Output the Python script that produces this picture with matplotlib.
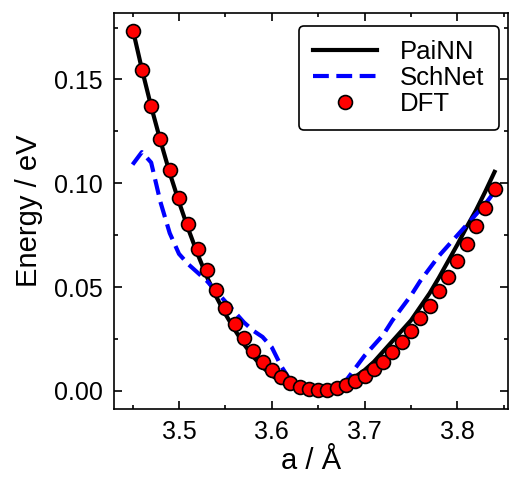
import matplotlib
matplotlib.use('Agg')
import matplotlib.pyplot as plt
import numpy as np
from matplotlib.ticker import MultipleLocator

plt.rcParams['font.family'] = ['Liberation Sans', 'DejaVu Sans']

a = np.round(np.arange(3.45, 3.845, 0.01), 2)

dft = [0.1732, 0.1546, 0.1372, 0.1213, 0.1064, 0.0927, 0.0802, 0.0684, 0.0580, 0.0485,
       0.0398, 0.0321, 0.0255, 0.0191, 0.0141, 0.0100, 0.0066, 0.0038, 0.0018, 0.0008,
       0.0002, 0.0005, 0.0013, 0.0028, 0.0046, 0.0074, 0.0104, 0.0141, 0.0189, 0.0235,
       0.0290, 0.0350, 0.0410, 0.0480, 0.0551, 0.0628, 0.0708, 0.0793, 0.0880, 0.0971]

painn = [0.1745, 0.1550, 0.1370, 0.1205, 0.1050, 0.0910, 0.0780, 0.0660, 0.0550, 0.0455,
         0.0370, 0.0295, 0.0225, 0.0165, 0.0115, 0.0075, 0.0043, 0.0020, 0.0006, 0.0000,
         0.0000, 0.0007, 0.0020, 0.0040, 0.0068, 0.0100, 0.0140, 0.0190, 0.0240, 0.0290,
         0.0340, 0.0405, 0.0470, 0.0545, 0.0625, 0.0705, 0.0790, 0.0870, 0.0960, 0.1055]

schnet = [0.109, 0.115, 0.110, 0.091, 0.076, 0.066, 0.061, 0.057, 0.053, 0.048,
          0.043, 0.038, 0.033, 0.029, 0.026, 0.021, 0.012, 0.005, 0.002, 0.001,
          0.000, 0.000, 0.001, 0.005, 0.011, 0.017, 0.022, 0.027, 0.034, 0.040,
          0.046, 0.053, 0.059, 0.065, 0.070, 0.075, 0.080, 0.085, 0.090, 0.096]

fig = plt.figure(figsize=(5.09, 4.78), dpi=100)
ax = fig.add_axes([0.224, 0.1444, 0.775, 0.8284])

ax.plot(a, painn, color='black', lw=3, label='PaiNN', zorder=2)
ax.plot(a, schnet, color='blue', lw=3, ls='--', dashes=(3.8, 1.8), label='SchNet', zorder=2)
ax.plot(a, dft, 'o', color='red', mec='black', mew=1.2, ms=10, label='DFT', zorder=3)

ax.set_xlim(3.43, 3.855)
ax.set_ylim(-0.0087, 0.182)
ax.xaxis.set_major_locator(MultipleLocator(0.1))
ax.xaxis.set_minor_locator(MultipleLocator(0.05))
ax.yaxis.set_major_locator(MultipleLocator(0.05))
ax.yaxis.set_minor_locator(MultipleLocator(0.025))
ax.xaxis.set_major_formatter(matplotlib.ticker.FormatStrFormatter('%.1f'))
ax.yaxis.set_major_formatter(matplotlib.ticker.FormatStrFormatter('%.2f'))
ax.tick_params(which='both', direction='in', top=True, right=True, width=1.2, labelsize=18)
ax.tick_params(which='major', length=6, pad=8)
ax.tick_params(which='minor', length=3)
for s in ax.spines.values():
    s.set_linewidth(1.2)

ax.set_xlabel('a / Å', fontsize=21, labelpad=2)
ax.set_ylabel('Energy / eV', fontsize=21, labelpad=8)

leg = ax.legend(loc='upper right', fontsize=18.5, frameon=True, fancybox=True,
                edgecolor='black', framealpha=1, handlelength=2.5, numpoints=1,
                borderpad=0.55, labelspacing=0.08, handletextpad=0.9,
                bbox_to_anchor=(1.008, 1.0))
leg.get_frame().set_linewidth(1.2)

fig.savefig('out.png', dpi=100)
